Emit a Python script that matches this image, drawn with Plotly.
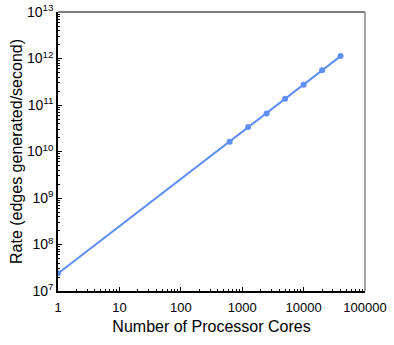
import numpy as np
import plotly.graph_objects as go

# processor cores vs. edge generation rate
cores = [1, 625, 1250, 2500, 5000, 10000, 20000, 40000]
rate = [2.4e7, 1.63e10, 3.36e10, 6.6e10, 1.37e11, 2.73e11, 5.6e11, 1.13e12]

x_ticks = [1, 10, 100, 1000, 10000, 100000]
x_labels = ["1", "10", "100", "1000", "10000", "100000"]
y_ticks = [1e7, 1e8, 1e9, 1e10, 1e11, 1e12, 1e13]
y_labels = ["10<sup>%d</sup>" % p for p in range(7, 14)]

# power-law fit through the points
b, a = np.polyfit(np.log10(cores), np.log10(rate), 1)
fit_x = [cores[0], cores[-1]]
fit_y = [10 ** (a + b * np.log10(v)) for v in fit_x]

minor_x = [k * 10 ** d for d in range(0, 5) for k in range(2, 10)]
minor_y = [k * 10 ** d for d in range(7, 13) for k in range(2, 10)]

blue = "#5f8ff5"

fig = go.Figure()
fig.add_trace(go.Scatter(x=fit_x, y=fit_y, mode="lines",
                         line=dict(color=blue, width=2), hoverinfo="skip"))
fig.add_trace(go.Scatter(x=cores, y=rate, mode="markers",
                         marker=dict(color=blue, size=6)))

fig.update_layout(
    width=394, height=345,
    margin=dict(l=58, r=29, t=12, b=54),
    plot_bgcolor="white", paper_bgcolor="white",
    showlegend=False,
    font=dict(family="Liberation Sans, Arial, sans-serif", color="black", size=13),
    xaxis=dict(type="log", range=[0, 5], tickvals=x_ticks, ticktext=x_labels,
               ticks="inside", ticklen=4, tickcolor="black", showgrid=False,
               zeroline=False, showline=True, linecolor="black", linewidth=1.5,
               automargin=False, tickfont=dict(size=13), ticklabelstandoff=4,
               minor=dict(tickvals=minor_x, ticks="inside", ticklen=2, tickcolor="black", showgrid=False),
               title=dict(text="Number of Processor Cores", font=dict(size=16), standoff=6)),
    yaxis=dict(type="log", range=[7, 13], tickvals=y_ticks, ticktext=y_labels,
               ticks="inside", ticklen=4, tickcolor="black", showgrid=False,
               zeroline=False, showline=True, linecolor="black", linewidth=1.5,
               automargin=False, tickfont=dict(size=14),
               minor=dict(tickvals=minor_y, ticks="inside", ticklen=2, tickcolor="black", showgrid=False),
               title=dict(text="Rate (edges generated/second)", font=dict(size=16), standoff=0)),
    shapes=[
        dict(type="line", xref="paper", yref="paper", x0=0, x1=1, y0=1, y1=1,
             line=dict(color="#555555", width=1.5)),
        dict(type="line", xref="paper", yref="paper", x0=1, x1=1, y0=0, y1=1,
             line=dict(color="#888888", width=1.5)),
    ],
)

# drop the default page margin so the figure sits at the window corner
fig.write_html("out.html", config={"displayModeBar": False},
               post_script="document.body.style.margin='0';")
